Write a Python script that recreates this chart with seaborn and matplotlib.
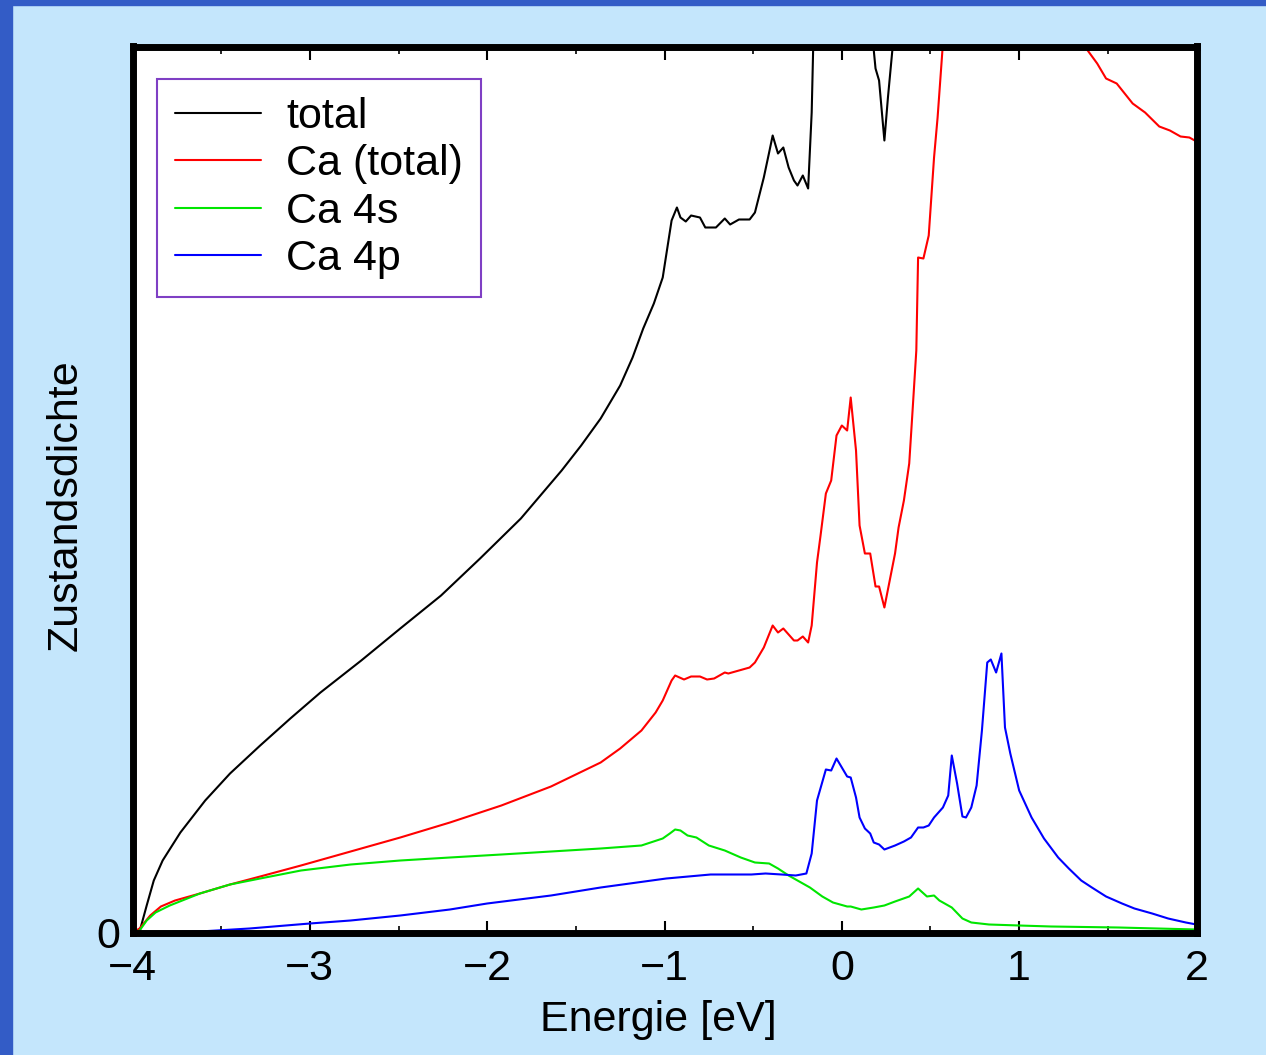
import numpy as np
import pandas as pd
import matplotlib
matplotlib.use("Agg")
import matplotlib.pyplot as plt
from matplotlib.patches import Rectangle
from matplotlib.ticker import MultipleLocator
import seaborn as sns

# ---------------- data (energy in eV, density in arbitrary units) ----------------
total_x = [-4.00, -3.96, -3.92, -3.88, -3.83, -3.73, -3.59, -3.45, -3.28, -3.11, -2.94, -2.71,
           -2.49, -2.26, -2.04, -1.81, -1.58, -1.47, -1.36, -1.25, -1.18, -1.12, -1.06, -1.01,
           -0.96, -0.93,
           -0.91, -0.88, -0.85, -0.80, -0.77, -0.71, -0.66, -0.63, -0.58, -0.52, -0.49, -0.47,
           -0.44, -0.41, -0.39, -0.36, -0.33, -0.30, -0.27, -0.25, -0.22, -0.19, -0.17, -0.14,
           -0.08, 0.00, 0.05, 0.10, 0.178, 0.19, 0.21, 0.24, 0.26, 0.29, 0.35, 0.50, 0.70, 1.00,
           1.50, 2.00]
total_y = [0.00, 0.01, 0.27, 0.52, 0.72, 1.00, 1.32, 1.59, 1.87, 2.14, 2.40, 2.72,
           3.04, 3.37, 3.74, 4.14, 4.62, 4.87, 5.14, 5.47, 5.75, 6.04, 6.29, 6.55,
           7.12, 7.25,
           7.15, 7.11, 7.17, 7.15, 7.05, 7.05, 7.14, 7.08, 7.13, 7.13, 7.20, 7.34,
           7.55, 7.80, 7.97, 7.79, 7.85, 7.65, 7.52, 7.47, 7.57, 7.44, 8.20, 10.5,
           13.0, 15.0, 16.0, 12.0, 8.86, 8.64, 8.52, 7.92, 8.35, 8.92, 11.0, 14.0, 18.0, 20.0,
           16.0, 14.0]

ca_x = [-4.00, -3.96, -3.90, -3.84, -3.76, -3.62, -3.45, -3.28, -3.05, -2.77, -2.49, -2.21,
        -1.92, -1.64, -1.36, -1.25, -1.13, -1.05, -1.01, -0.96, -0.94, -0.89, -0.85, -0.80,
        -0.76, -0.72, -0.66, -0.64, -0.58, -0.52, -0.49, -0.44, -0.39, -0.36, -0.33, -0.27,
        -0.25, -0.22, -0.19, -0.17, -0.14, -0.12, -0.09, -0.06, -0.03, 0.00, 0.03, 0.05,
        0.08, 0.10, 0.13, 0.16, 0.19, 0.21, 0.24, 0.27, 0.30, 0.32, 0.35, 0.38, 0.40, 0.42,
        0.43, 0.46, 0.49, 0.52, 0.54, 0.57, 0.65, 0.85, 1.00, 1.20, 1.37, 1.44, 1.49, 1.55,
        1.64, 1.71, 1.75, 1.79, 1.85, 1.91, 1.96, 1.99, 2.00]
ca_y = [0.00, 0.04, 0.17, 0.26, 0.32, 0.39, 0.48, 0.56, 0.67, 0.81, 0.95, 1.10,
        1.27, 1.46, 1.70, 1.84, 2.02, 2.20, 2.32, 2.52, 2.57, 2.53, 2.56, 2.56,
        2.53, 2.54, 2.60, 2.59, 2.62, 2.65, 2.70, 2.85, 3.07, 3.00, 3.04, 2.92,
        2.92, 2.96, 2.90, 3.07, 3.70, 3.97, 4.39, 4.52, 4.97, 5.07, 5.02, 5.35,
        4.82, 4.07, 3.79, 3.79, 3.46, 3.46, 3.25, 3.52, 3.79, 4.05, 4.32, 4.69, 5.25, 5.82,
        6.75, 6.74, 6.97, 7.75, 8.15, 8.89, 11.0, 13.0, 12.5, 10.5, 8.86, 8.69, 8.54, 8.49,
        8.29, 8.20, 8.13, 8.06, 8.02, 7.96, 7.95, 7.92, 7.93]

s_x = [-4.00, -3.96, -3.92, -3.87, -3.79, -3.62, -3.45, -3.28, -3.05, -2.77, -2.49, -2.21,
       -1.92, -1.64, -1.36, -1.13, -1.01, -0.97, -0.94, -0.91, -0.87, -0.82, -0.75, -0.66,
       -0.57, -0.49, -0.41, -0.36, -0.30, -0.23, -0.18, -0.11, -0.05, 0.03, 0.05, 0.11,
       0.18, 0.24, 0.30, 0.38, 0.43, 0.48, 0.52, 0.55, 0.62, 0.68, 0.73, 0.83, 1.00, 1.18,
       1.56, 2.00]
s_y = [0.00, 0.02, 0.12, 0.20, 0.27, 0.39, 0.48, 0.54, 0.62, 0.68, 0.72, 0.75,
       0.78, 0.81, 0.84, 0.87, 0.94, 0.99, 1.03, 1.02, 0.97, 0.95, 0.87, 0.82,
       0.75, 0.70, 0.69, 0.64, 0.57, 0.50, 0.45, 0.36, 0.30, 0.26, 0.26, 0.23,
       0.25, 0.27, 0.31, 0.36, 0.44, 0.36, 0.37, 0.32, 0.25, 0.14, 0.10, 0.08, 0.07, 0.06,
       0.05, 0.03]

p_x = [-4.00, -3.62, -3.34, -3.00, -2.77, -2.49, -2.21, -2.00, -1.64, -1.36, -0.99, -0.74,
       -0.51, -0.43, -0.34, -0.26, -0.20, -0.17, -0.14, -0.09, -0.06, -0.03, 0.00, 0.03,
       0.05, 0.08, 0.10, 0.13, 0.16, 0.18, 0.21, 0.24, 0.30, 0.35, 0.39, 0.43, 0.46, 0.49,
       0.52, 0.57, 0.60, 0.62, 0.65, 0.68, 0.70, 0.73, 0.76, 0.79, 0.82, 0.84, 0.87, 0.90,
       0.92, 0.95, 1.00, 1.07, 1.14, 1.22, 1.28, 1.35, 1.41, 1.49, 1.58, 1.65, 1.75, 1.84,
       1.94, 2.00]
p_y = [0.00, 0.01, 0.04, 0.09, 0.12, 0.17, 0.23, 0.29, 0.37, 0.45, 0.54, 0.58,
       0.58, 0.59, 0.58, 0.57, 0.59, 0.79, 1.32, 1.63, 1.62, 1.74, 1.65, 1.56,
       1.55, 1.35, 1.15, 1.04, 0.99, 0.90, 0.88, 0.83, 0.87, 0.91, 0.95, 1.05, 1.05, 1.07,
       1.15, 1.25, 1.37, 1.77, 1.49, 1.16, 1.15, 1.25, 1.47, 2.02, 2.70, 2.73, 2.60, 2.79,
       2.05, 1.79, 1.42, 1.15, 0.94, 0.75, 0.64, 0.52, 0.45, 0.36, 0.29, 0.24, 0.19, 0.14,
       0.10, 0.08]

series_names = ["total", "Ca (total)", "Ca 4s", "Ca 4p"]
series_colors = ["#000000", "#ff0000", "#00e600", "#0000ff"]
x_ticks = [-4, -3, -2, -1, 0, 1, 2]
x_ticklabels = ["\u22124", "\u22123", "\u22122", "\u22121", "0", "1", "2"]
y_ticks = [0]
y_ticklabels = ["0"]

# ---------------- figure ----------------
sns.set_style("white")
plt.rcParams["font.family"] = ["Liberation Sans", "DejaVu Sans"]
plt.rcParams["text.color"] = "black"
plt.rcParams["axes.labelcolor"] = "black"
plt.rcParams["xtick.color"] = "black"
plt.rcParams["ytick.color"] = "black"

FS = 31
W, H = 1266, 1055
bg = "#c4e6fc"
fig = plt.figure(figsize=(W / 100, H / 100), dpi=100, facecolor=bg)

# dark blue frame strips (left and top)
fig.patches.append(Rectangle((0, 0), 12 / W, 1, transform=fig.transFigure,
                             color="#335cc6", zorder=0))
fig.patches.append(Rectangle((0, 1 - 5 / H), 1, 5 / H, transform=fig.transFigure,
                             color="#335cc6", zorder=0))

ax = fig.add_axes([132.5 / W, 1 - 932.5 / H, 1064 / W, 886 / H])
ax.set_facecolor("white")

all_x = [total_x, ca_x, s_x, p_x]
all_y = [total_y, ca_y, s_y, p_y]
for xs, ys, name, col in zip(all_x, all_y, series_names, series_colors):
    df = pd.DataFrame({"E": xs, "D": ys})
    sns.lineplot(data=df, x="E", y="D", color=col, label=name, sort=False,
                 estimator=None, lw=1.5, ax=ax)

ax.set_xlim(-4, 2)
ax.set_ylim(0, 8.86)

for sp in ax.spines.values():
    sp.set_linewidth(5)
    sp.set_color("black")
    sp.set_zorder(5)

ax.set_xticks(x_ticks)
ax.set_xticklabels(x_ticklabels)
ax.xaxis.set_minor_locator(MultipleLocator(0.5))
ax.set_yticks(y_ticks)
ax.set_yticklabels(y_ticklabels)
ax.tick_params(axis="x", which="major", direction="in", length=9, width=1.5,
               top=True, bottom=True, labelsize=FS, pad=12, color="black",
               labelcolor="black")
ax.tick_params(axis="x", which="minor", direction="in", length=5, width=1.2,
               top=True, bottom=True, color="black")
ax.tick_params(axis="y", which="major", direction="in", length=0, labelsize=FS,
               pad=9, left=True, right=False, labelcolor="black")

ax.set_xlabel("Energie [eV]", fontsize=FS, color="black")
ax.set_ylabel("Zustandsdichte", fontsize=FS, color="black")
ax.xaxis.set_label_coords(0.494, -0.076)
ax.yaxis.set_label_coords(-0.044, 0.4825)

leg = ax.legend(loc="upper left", bbox_to_anchor=((157 - 132.5) / 1064, (932.5 - 79) / 886),
                borderaxespad=0, fontsize=FS, frameon=True, fancybox=False,
                framealpha=1, handlelength=2.0, handletextpad=0.58,
                labelspacing=0.17, borderpad=0.42)
frame = leg.get_frame()
frame.set_edgecolor("#7f3fc4")
frame.set_linewidth(1.5)
frame.set_facecolor("white")
leg.set_zorder(6)
for t in leg.get_texts():
    t.set_color("black")
for line in leg.get_lines():
    line.set_linewidth(1.5)

fig.savefig("out.png", dpi=100, facecolor=bg)
